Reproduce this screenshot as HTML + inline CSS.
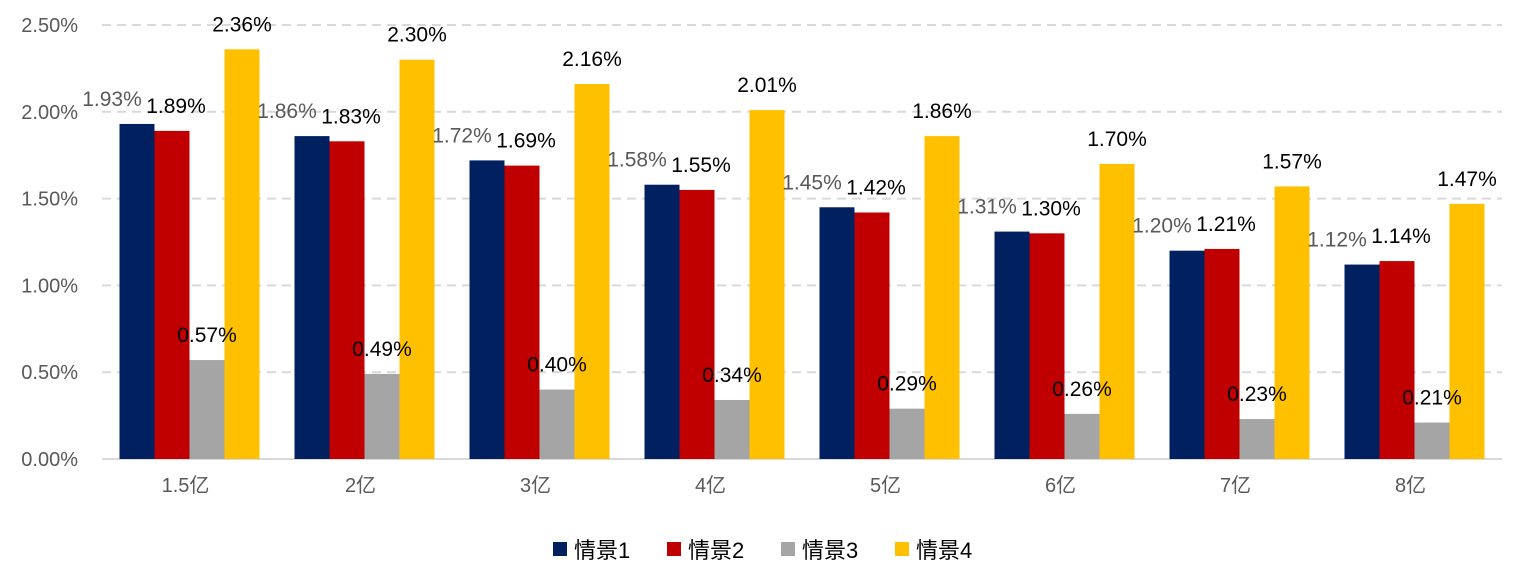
<!DOCTYPE html>
<html><head><meta charset="utf-8"><style>
body{margin:0;background:#fff;}
svg text{font-family:"Liberation Sans","Noto Sans CJK SC",sans-serif;}
</style></head><body>
<svg width="1518" height="573" id="c">
</svg>
<script>
const categories=["1.5亿","2亿","3亿","4亿","5亿","6亿","7亿","8亿"];
const s1=[1.93,1.86,1.72,1.58,1.45,1.31,1.20,1.12];
const s2=[1.89,1.83,1.69,1.55,1.42,1.30,1.21,1.14];
const s3=[0.57,0.49,0.40,0.34,0.29,0.26,0.23,0.21];
const s4=[2.36,2.30,2.16,2.01,1.86,1.70,1.57,1.47];
const seriesNames=["情景1","情景2","情景3","情景4"];
const yTicks=[0,0.5,1.0,1.5,2.0,2.5];
const svg=document.getElementById('c');
const NS='http://www.w3.org/2000/svg';
const colors=['#002060','#C00000','#A5A5A5','#FFC000'];
const labelColors=['#595959','#000','#000','#000'];
const x0=102,x1=1502,y0=459,yTop=25,ymax=2.5;
const Y=v=>y0-(v/ymax)*(y0-yTop);
const gw=(x1-x0)/categories.length;
const X=i=>x0+gw*i+gw/2;
function el(t,a){const e=document.createElementNS(NS,t);for(const k in a)e.setAttribute(k,a[k]);svg.appendChild(e);return e;}
yTicks.forEach(v=>{
 if(v>0){const g=el('line',{x1:x0,x2:x1,y1:Y(v),y2:Y(v),stroke:'#D9D9D9','stroke-width':2,'stroke-dasharray':'9,6'});
 
 }
 const t=el('text',{x:78,y:Y(v)+7,'text-anchor':'end','font-size':20,fill:'#595959'});
 t.textContent=v.toFixed(2)+'%';
 
 
});
const ax=el('line',{x1:x0,x2:x1,y1:y0,y2:y0,stroke:'#D9D9D9','stroke-width':2});


const series=[s1,s2,s3,s4];
const bw=35;
const lblOff=[-25,4,0,0];
categories.forEach((c,i)=>{
 series.forEach((s,k)=>{
  const bx=X(i)-2*bw+k*bw;
  const r=el('rect',{x:bx,y:Y(s[i]),width:bw,height:y0-Y(s[i]),fill:colors[k]});
  
  
 });
 const t=el('text',{x:X(i)-4,y:492,'text-anchor':'middle','font-size':20,fill:'#595959'});
 t.textContent=c;
 
 
});
categories.forEach((c,i)=>{
 series.forEach((s,k)=>{
  const bx=X(i)-2*bw+k*bw;
  const t=el('text',{x:bx+bw/2+lblOff[k],y:Y(s[i])-18,'text-anchor':'middle','font-size':21,fill:labelColors[k]});
  t.textContent=s[i].toFixed(2)+'%';
  
  
 });
});
const lx=[553,667,781,895];
seriesNames.forEach((n,k)=>{
 const r=el('rect',{x:lx[k],y:542,width:14,height:14,fill:colors[k]});
 
 
 const t=el('text',{x:lx[k]+21,y:558,'font-size':22,fill:'#000'});
 t.textContent=n;
 
 
});
</script>
</body></html>
